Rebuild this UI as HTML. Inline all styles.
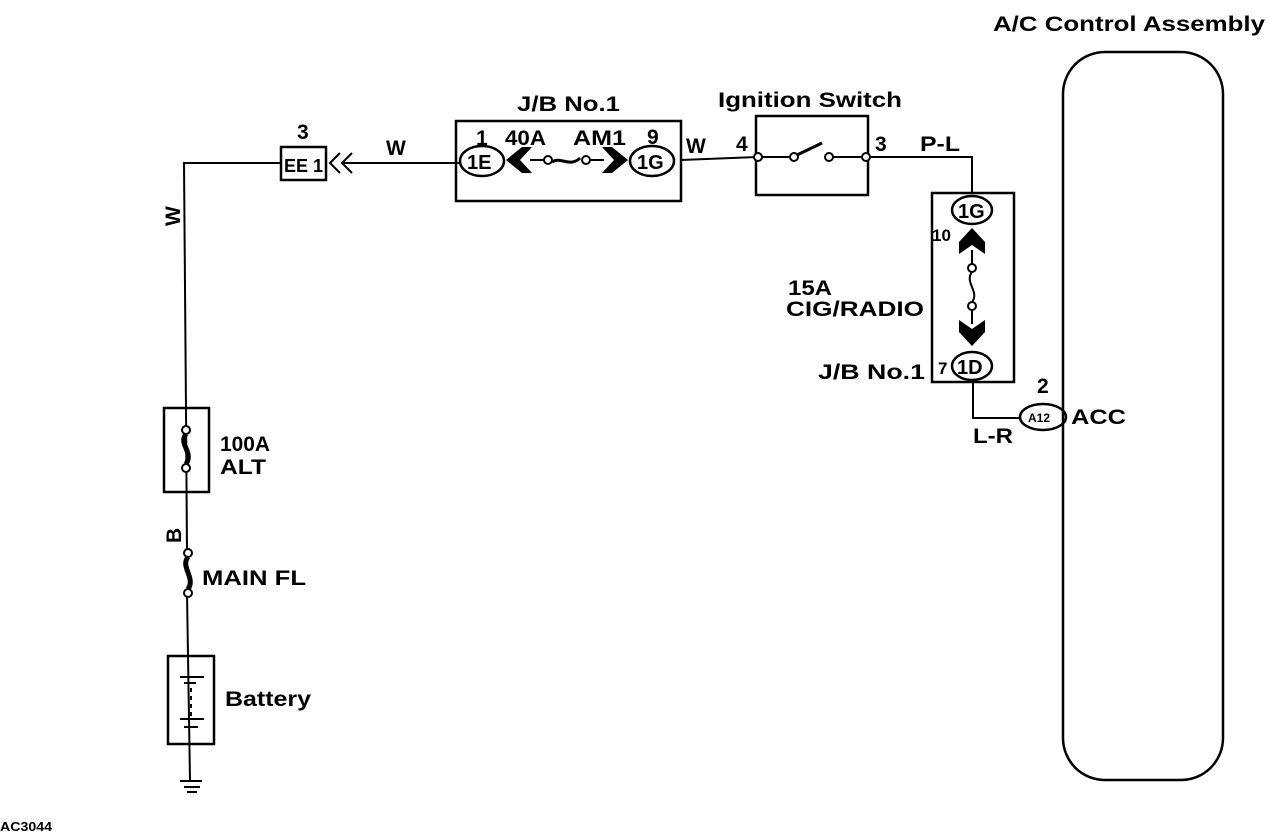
<!DOCTYPE html>
<html><head><style>
body{margin:0;background:#fff}
svg{display:block}
text{font-family:"Liberation Sans",sans-serif;fill:#000;font-weight:bold}
</style></head><body>
<svg width="1280" height="836" viewBox="0 0 1280 836" xmlns="http://www.w3.org/2000/svg">
<g stroke="#000" fill="none" stroke-width="2">
<polyline points="280,163 184,163 186,410"/>
<line x1="186" y1="410" x2="187" y2="553"/>
<line x1="187" y1="593" x2="190" y2="780"/>
<rect x="164" y="408" width="45" height="84" stroke-width="2.5"/>
<circle cx="186" cy="430" r="4" fill="#fff"/>
<circle cx="186" cy="468" r="4" fill="#fff"/>
<path d="M186,434 C178,444 194,452 186,464" stroke-width="5"/>
<circle cx="188" cy="553" r="4" fill="#fff"/>
<circle cx="188" cy="593" r="4" fill="#fff"/>
<path d="M188,557 C180,567 196,578 188,589" stroke-width="5"/>
<rect x="168" y="656" width="46" height="88" stroke-width="2.5"/>
<line x1="180" y1="677" x2="204" y2="677"/>
<line x1="184" y1="683" x2="196" y2="683"/>
<line x1="191" y1="688" x2="191" y2="716" stroke-dasharray="4,4"/>
<line x1="180" y1="719" x2="204" y2="719"/>
<line x1="184" y1="727" x2="198" y2="727"/>
<line x1="180" y1="781" x2="202" y2="781"/>
<line x1="184" y1="787" x2="200" y2="787"/>
<line x1="187" y1="792" x2="197" y2="792"/>
<rect x="281" y="147" width="45" height="33" stroke-width="2.5"/>
<polyline points="340,153 330,163 340,173"/>
<polyline points="352,153 342,163 352,173"/>
<line x1="344" y1="163" x2="459" y2="163"/>
<rect x="456" y="121" width="225" height="80" stroke-width="2.5"/>
<ellipse cx="482" cy="161" rx="22" ry="15" fill="#fff" stroke-width="2.5"/>
<ellipse cx="652" cy="161" rx="22" ry="15" fill="#fff" stroke-width="2.5"/>
<line x1="530" y1="160" x2="544" y2="160"/>
<circle cx="548" cy="160" r="4" fill="#fff"/>
<path d="M552,162 C560,156 570,168 580,158" stroke-width="3"/>
<circle cx="586" cy="160" r="4" fill="#fff"/>
<line x1="590" y1="160" x2="604" y2="160"/>
<line x1="681" y1="160" x2="757" y2="157"/>
<rect x="756" y="116" width="112" height="79" stroke-width="2.5"/>
<circle cx="758" cy="157" r="4" fill="#fff"/>
<circle cx="866" cy="157" r="4" fill="#fff"/>
<line x1="762" y1="157" x2="790" y2="157"/>
<circle cx="794" cy="157" r="4" fill="#fff"/>
<line x1="797" y1="155" x2="822" y2="143" stroke-width="3"/>
<circle cx="829" cy="157" r="4" fill="#fff"/>
<line x1="833" y1="157" x2="862" y2="157"/>
<polyline points="870,157 972,157 972,194"/>
<rect x="932" y="193" width="82" height="189" stroke-width="2.5"/>
<ellipse cx="972" cy="210" rx="20" ry="14" fill="#fff" stroke-width="2.5"/>
<ellipse cx="972" cy="366" rx="20" ry="14" fill="#fff" stroke-width="2.5"/>
<circle cx="972" cy="268" r="4" fill="#fff"/>
<circle cx="972" cy="306" r="4" fill="#fff"/>
<path d="M972,272 C964,282 980,292 972,302"/>
<line x1="972" y1="250" x2="972" y2="264"/>
<line x1="972" y1="310" x2="972" y2="324"/>
<polyline points="973,381 973,418 1020,418"/>
<ellipse cx="1043" cy="417" rx="23" ry="13" fill="#fff" stroke-width="2.5"/>
<rect x="1063" y="52" width="160" height="728" rx="42" ry="42" stroke-width="2.5"/>
</g>
<g fill="#000">
<polygon points="506,160 522,147 532,147 520,160 532,173 522,173"/>
<polygon points="628,160 612,147 602,147 614,160 602,173 612,173"/>
<polygon points="972,228 959,242 959,254 972,245 985,254 985,242"/>
<polygon points="972,346 959,332 959,320 972,329 985,320 985,332"/>
</g>
<g font-size="21">
<text x="993" y="31" textLength="272" lengthAdjust="spacingAndGlyphs">A/C Control Assembly</text>
<text x="517" y="111" textLength="103" lengthAdjust="spacingAndGlyphs">J/B No.1</text>
<text x="718" y="107" textLength="184" lengthAdjust="spacingAndGlyphs">Ignition Switch</text>
<text x="297" y="139">3</text>
<text x="284" y="172" font-size="18" font-weight="normal">EE 1</text>
<text x="386" y="155">W</text>
<text x="476" y="145">1</text>
<text x="505" y="145" textLength="41" lengthAdjust="spacingAndGlyphs">40A</text>
<text x="573" y="145" textLength="53" lengthAdjust="spacingAndGlyphs">AM1</text>
<text x="647" y="144">9</text>
<text x="467" y="169" font-size="20" font-weight="normal">1E</text>
<text x="637" y="169" font-size="20" font-weight="normal">1G</text>
<text x="686" y="153">W</text>
<text x="736" y="151">4</text>
<text x="875" y="151">3</text>
<text x="920" y="151" textLength="40" lengthAdjust="spacingAndGlyphs">P-L</text>
<text x="958" y="218" font-size="20" font-weight="normal">1G</text>
<text x="957" y="374" font-size="20" font-weight="normal">1D</text>
<text x="932" y="241" font-size="17">10</text>
<text x="938" y="374" font-size="17">7</text>
<text x="788" y="295" textLength="44" lengthAdjust="spacingAndGlyphs">15A</text>
<text x="786" y="316" textLength="138" lengthAdjust="spacingAndGlyphs">CIG/RADIO</text>
<text x="818" y="379" textLength="107" lengthAdjust="spacingAndGlyphs">J/B No.1</text>
<text x="1037" y="393">2</text>
<text x="1028" y="422" font-size="12" font-weight="normal">A12</text>
<text x="1071" y="424" textLength="55" lengthAdjust="spacingAndGlyphs">ACC</text>
<text x="973" y="443" textLength="40" lengthAdjust="spacingAndGlyphs">L-R</text>
<text x="220" y="451" textLength="50" lengthAdjust="spacingAndGlyphs">100A</text>
<text x="220" y="474" textLength="46" lengthAdjust="spacingAndGlyphs">ALT</text>
<text x="202" y="585" textLength="104" lengthAdjust="spacingAndGlyphs">MAIN FL</text>
<text x="225" y="706" textLength="86" lengthAdjust="spacingAndGlyphs">Battery</text>
<text x="0" y="831" font-size="13" textLength="52" lengthAdjust="spacingAndGlyphs">AC3044</text>
<text transform="translate(180,226) rotate(-90)">W</text>
<text transform="translate(181,543) rotate(-90)">B</text>
</g>
</svg>
</body></html>
